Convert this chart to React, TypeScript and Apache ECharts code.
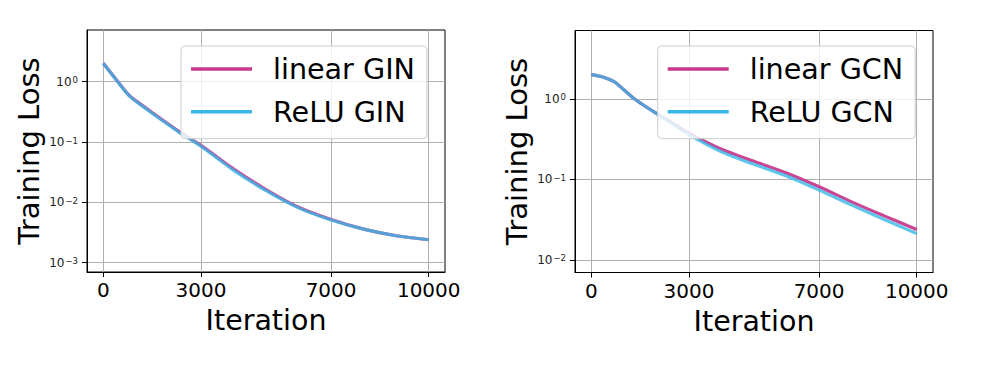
import React, { useEffect, useRef } from 'react';
import * as echarts from 'echarts';

const ginIters = [0, 400, 800, 1300, 1800, 2300, 3000, 4000, 5000, 6000, 7000, 8000, 9000, 10000];
const ginLinear = [2.02, 1.08, 0.59, 0.37, 0.236, 0.153, 0.088, 0.036, 0.0163, 0.0083, 0.0052, 0.0036, 0.0028, 0.0024];
const ginRelu = [2.02, 1.07, 0.58, 0.36, 0.23, 0.149, 0.085, 0.0343, 0.0156, 0.0081, 0.0051, 0.0036, 0.0028, 0.0024];

const gcnIters = [0, 400, 700, 1000, 1300, 1600, 2000, 2500, 3000, 4000, 5000, 6000, 7000, 8000, 9000, 10000];
const gcnLinear = [2.0, 1.85, 1.64, 1.3, 1.02, 0.84, 0.66, 0.5, 0.375, 0.237, 0.168, 0.12, 0.081, 0.0526, 0.0352, 0.0238];
const gcnRelu = [2.0, 1.85, 1.64, 1.3, 1.02, 0.84, 0.66, 0.49, 0.36, 0.22, 0.154, 0.11, 0.0736, 0.0479, 0.0318, 0.0212];

const xTicks = [0, 3000, 7000, 10000];
const ginYTicks = [0.001, 0.01, 0.1, 1];
const gcnYTicks = [0.01, 0.1, 1];
const ginNames = ['linear GIN', 'ReLU GIN'];
const gcnNames = ['linear GCN', 'ReLU GCN'];

const FONT = 'DejaVu Sans';
const PINK = '#c93a8e';
const CYAN = '#38b6e6';

const fmtPow = (v: number) => {
  const e = Math.round(Math.log10(v));
  const exp = e < 0 ? '\u2212' + String(-e) : String(e);
  return '{b|10}{s|' + exp + '}';
};

function xAxisFor(gridIndex: number) {
  return {
    type: 'value',
    gridIndex,
    min: -500,
    max: 10500,
    name: 'Iteration',
    nameLocation: 'middle',
    nameGap: 34,
    nameTextStyle: { fontFamily: FONT, fontSize: 28.5, color: '#000' },
    axisLine: { show: true, onZero: false, lineStyle: { color: '#000', width: 1 } },
    axisTick: { show: true, length: 5, lineStyle: { color: '#000' }, customValues: xTicks },
    axisLabel: { fontFamily: FONT, fontSize: 20, color: '#000', margin: 8, customValues: xTicks, formatter: (v: number) => String(v) },
    splitLine: { show: true, lineStyle: { color: '#b0b0b0', width: 1 } },
  };
}

function yAxisFor(gridIndex: number, min: number, max: number, ticks: number[]) {
  return {
    type: 'log',
    gridIndex,
    min,
    max,
    logBase: 10,
    name: 'Training Loss',
    nameLocation: 'middle',
    nameGap: 44,
    nameTextStyle: { fontFamily: FONT, fontSize: 29, color: '#000' },
    axisLine: { show: true, onZero: false, lineStyle: { color: '#000', width: 1 } },
    axisTick: { show: true, length: 5, lineStyle: { color: '#000' }, customValues: ticks },
    axisLabel: {
      fontFamily: FONT,
      color: '#000',
      margin: 9,
      customValues: ticks,
      formatter: fmtPow,
      rich: {
        b: { fontFamily: FONT, fontSize: 12, lineHeight: 12, color: '#222', verticalAlign: 'bottom', padding: [3, 0, 0, 0] },
        s: { fontFamily: FONT, fontSize: 8.5, lineHeight: 9, color: '#222', verticalAlign: 'top', padding: [0, 0, 0, 1] },
      },
    },
    splitLine: { show: true, lineStyle: { color: '#b0b0b0', width: 1 } },
    minorTick: { show: false },
  };
}

function lineSeries(name: string, xs: number[], ys: number[], idx: number, color: string, opacity: number, z: number) {
  return {
    type: 'line',
    name,
    xAxisIndex: idx,
    yAxisIndex: idx,
    data: xs.map((x, i) => [x, ys[i]]),
    smooth: 0.3,
    symbol: 'none',
    showSymbol: false,
    z,
    lineStyle: { color, width: 3.2, opacity },
    itemStyle: { color },
  };
}

function legendFor(names: string[], left: number) {
  return {
    data: names,
    left,
    top: 46,
    orient: 'vertical',
    backgroundColor: 'rgba(255,255,255,0.8)',
    borderColor: '#cccccc',
    borderWidth: 1,
    borderRadius: 4,
    padding: [6, 12, 10, 10],
    icon: 'rect',
    itemWidth: 61,
    itemHeight: 3.5,
    itemGap: 8.7,
    itemStyle: { borderWidth: 0 },
    textStyle: { fontFamily: FONT, fontSize: 28.6, color: '#000', lineHeight: 34, padding: [0, 0, 0, 16] },
    selectedMode: false,
    z: 10,
  };
}

export default function App() {
  const ref = useRef<HTMLDivElement>(null);
  useEffect(() => {
    if (!ref.current) return;
    const chart = echarts.init(ref.current, null, { renderer: 'svg' });
    chart.setOption({
      animation: false,
      backgroundColor: '#fff',
      grid: [
        { left: 87, top: 30, width: 358, height: 242, show: true, borderColor: '#000', borderWidth: 1, backgroundColor: 'transparent' },
        { left: 575, top: 30.5, width: 358, height: 242, show: true, borderColor: '#000', borderWidth: 1, backgroundColor: 'transparent' },
      ],
      xAxis: [xAxisFor(0), xAxisFor(1)],
      yAxis: [yAxisFor(0, 0.000702, 7.18, ginYTicks), yAxisFor(1, 0.00697, 7.08, gcnYTicks)],
      legend: [legendFor(ginNames, 181), legendFor(gcnNames, 657.7)],
      series: [
        lineSeries(ginNames[0], ginIters, ginLinear, 0, PINK, 0.95, 2),
        lineSeries(ginNames[1], ginIters, ginRelu, 0, CYAN, 0.8, 3),
        lineSeries(gcnNames[0], gcnIters, gcnLinear, 1, PINK, 0.95, 2),
        lineSeries(gcnNames[1], gcnIters, gcnRelu, 1, CYAN, 0.8, 3),
      ],
    });
    return () => chart.dispose();
  }, []);
  return <div ref={ref} style={{ position: 'absolute', left: 0, top: 0, width: 984, height: 366, background: '#fff' }} />;
}
